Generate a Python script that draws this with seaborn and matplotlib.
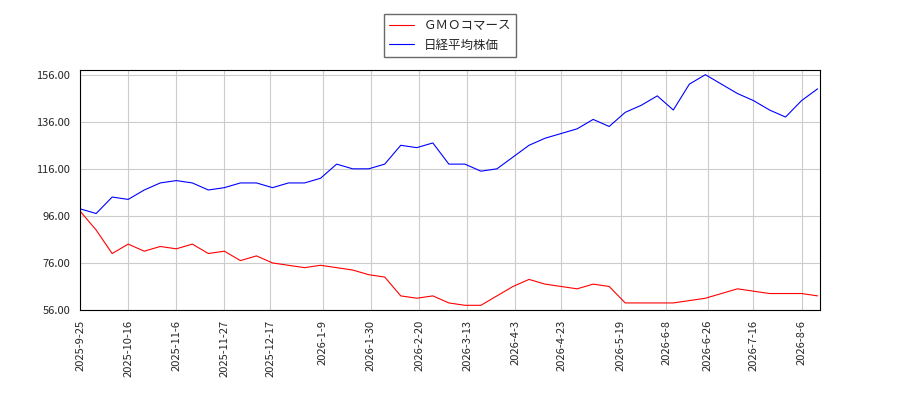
import pandas as pd
import numpy as np
import matplotlib.pyplot as plt
import seaborn as sns

sns.set_style("white")
plt.rcParams['font.family'] = ['Noto Sans CJK JP', 'DejaVu Sans']

# weekly readings
dates = pd.date_range("2025-09-25", "2026-08-13", freq="7D")
gmo = [98, 90, 80, 84, 81, 83, 82, 84, 80, 81, 77, 79, 76, 75, 74, 75, 74, 73, 71, 70,
       62, 61, 62, 59, 58, 58, 62, 66, 69, 67, 66, 65, 67, 66, 59, 59, 59, 59, 60, 61,
       63, 65, 64, 63, 63, 63, 62]
nikkei = [99, 97, 104, 103, 107, 110, 111, 110, 107, 108, 110, 110, 108, 110, 110, 112,
          118, 116, 116, 118, 126, 125, 127, 118, 118, 115, 116, 121, 126, 129, 131, 133,
          137, 134, 140, 143, 147, 141, 152, 156, 152, 148, 145, 141, 138, 145, 150]
tick_dates = ["2025-9-25", "2025-10-16", "2025-11-6", "2025-11-27", "2025-12-17",
              "2026-1-9", "2026-1-30", "2026-2-20", "2026-3-13", "2026-4-3",
              "2026-4-23", "2026-5-19", "2026-6-8", "2026-6-26", "2026-7-16", "2026-8-6"]

df = pd.DataFrame({"date": dates, "ＧＭＯコマース": gmo, "日経平均株価": nikkei})
long = df.melt("date", var_name="name", value_name="value")

fig, ax = plt.subplots(figsize=(9, 4), dpi=100)
fig.subplots_adjust(left=0.089, right=0.911, top=0.825, bottom=0.225)
sns.lineplot(data=long, x="date", y="value", hue="name", ax=ax,
             palette=["red", "blue"], linewidth=0.8)

ax.set_xticks(pd.to_datetime(tick_dates))
ax.set_xticklabels(tick_dates, rotation=90, fontsize=8)
ax.set_xlim(pd.Timestamp("2025-09-25"), pd.Timestamp("2026-08-14"))
ax.set_ylim(56, 158)
ax.set_yticks(np.arange(56, 157, 20))
ax.set_yticklabels([f"{v:.2f}" for v in np.arange(56, 157, 20)], fontsize=8)
ax.grid(True, color="#cccccc", linewidth=0.8)
ax.set_xlabel("")
ax.set_ylabel("")
for s in ax.spines.values():
    s.set_color("black")
ax.legend(loc="lower center", bbox_to_anchor=(0.5, 1.03), fontsize=9,
          frameon=True, fancybox=False, edgecolor="#444444")

fig.savefig("out.png")
